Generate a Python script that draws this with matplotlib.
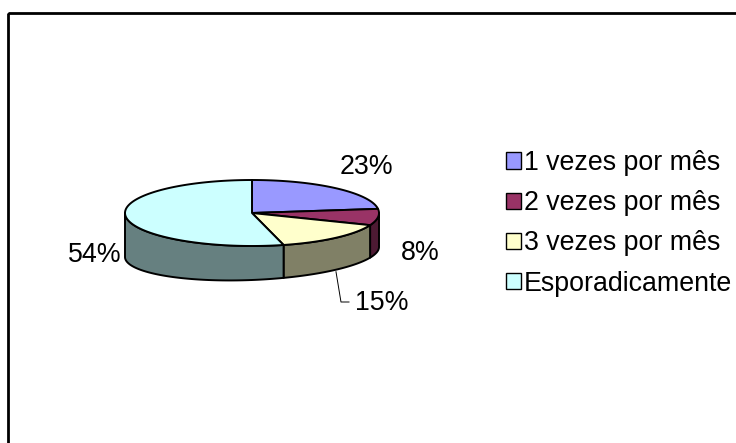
import numpy as np
import matplotlib
matplotlib.use("Agg")
import matplotlib.pyplot as plt
from matplotlib.patches import Polygon, Rectangle, Patch

plt.rcParams['font.family'] = ['Liberation Sans', 'DejaVu Sans']

# dados
categorias = ['1 vezes por mês', '2 vezes por mês', '3 vezes por mês', 'Esporadicamente']
valores = [23, 8, 15, 54]
rotulos = ['23%', '8%', '15%', '54%']
cores_topo = ['#9999FF', '#993366', '#FFFFCC', '#CCFFFF']
cores_lado = ['#4D4D80', '#4D1A33', '#808066', '#668080']

# geometria da pizza (em pixels da figura)
cx, cy = 252, 213       # centro da elipse de cima
a, b = 127, 33          # semi-eixos de cima
cyb, b2, incl = 252, 28, 5   # elipse de baixo (perspectiva)

fig = plt.figure(figsize=(7.36, 4.43), dpi=100)
ax = fig.add_axes([0, 0, 1, 1])
ax.set_xlim(0, 736)
ax.set_ylim(443, 0)
ax.axis('off')

# moldura
ax.add_patch(Rectangle((8, 13), 900, 600, fill=False, edgecolor='black', lw=2.0))


def topo(t):
    return cx + a * np.cos(t), cy - b * np.sin(t)


def baixo(t):
    return cx + a * np.cos(t), cyb - b2 * np.sin(t) - incl * np.cos(t)


# angulos (começa às 12h, sentido horário)
total = float(sum(valores))
limites = [90.0]
for v in valores:
    limites.append(limites[-1] - 360.0 * v / total)

# laterais visíveis (metade da frente: -180..0)
for i in range(len(valores)):
    t1, t2 = limites[i], limites[i + 1]
    ini, fim = min(t1, 0.0), max(t2, -180.0)
    if ini <= fim:
        continue
    t = np.radians(np.linspace(ini, fim, 80))
    xs, ys = topo(t)
    xb, yb = baixo(t[::-1])
    pts = np.column_stack([np.concatenate([xs, xb]), np.concatenate([ys, yb])])
    ax.add_patch(Polygon(pts, closed=True, facecolor=cores_lado[i],
                         edgecolor='black', lw=1.4, joinstyle='round'))

# fatias de cima
for i in range(len(valores)):
    t = np.radians(np.linspace(limites[i], limites[i + 1], 120))
    xs, ys = topo(t)
    pts = np.column_stack([np.concatenate([[cx], xs]), np.concatenate([[cy], ys])])
    ax.add_patch(Polygon(pts, closed=True, facecolor=cores_topo[i],
                         edgecolor='black', lw=1.4, joinstyle='round'))

fs = 19.3
ax.text(366, 167, rotulos[0], fontsize=fs, ha='center', va='center')
ax.text(420, 253, rotulos[1], fontsize=fs, ha='center', va='center')
ax.text(95, 255, rotulos[3], fontsize=fs, ha='center', va='center')
ax.text(382, 303, rotulos[2], fontsize=fs, ha='center', va='center')

# linha guia do 15%
meio = np.radians((limites[2] + limites[3]) / 2)
x0, y0 = baixo(meio)
ax.plot([x0, x0 + 5, x0 + 13], [y0 + 2, 302, 302], color='black', lw=0.7)

alcas = [Patch(facecolor=c, edgecolor='black', lw=1.0) for c in cores_topo]
ax.legend(alcas, categorias, loc='upper left', bbox_to_anchor=(506 / 736, 1 - 150 / 443),
          frameon=False, fontsize=fs, handlelength=0.55, handleheight=0.55,
          handletextpad=0.12, labelspacing=0.53, borderpad=0, borderaxespad=0)

fig.savefig('out.png', dpi=100)
